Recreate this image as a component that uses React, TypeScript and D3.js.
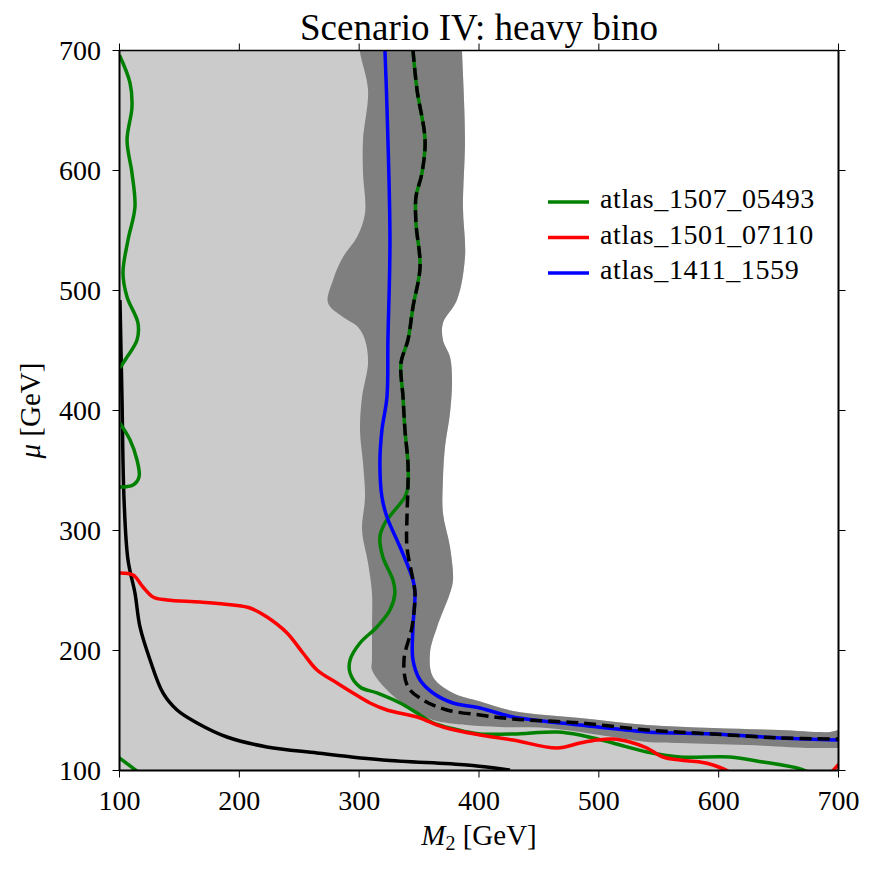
import React from "react";
import * as d3 from "d3";

type P = [number, number];

const TITLE = "Scenario IV: heavy bino";
const X_TICKS = [100, 200, 300, 400, 500, 600, 700];
const Y_TICKS = [100, 200, 300, 400, 500, 600, 700];

// dark band: outer (right/upper) edge, from top going down then right
const bandOuter: P[] = [
  [385.5, 715], [385.8, 700.4], [386.6, 681.25], [388.3, 625.4], [386.6, 569.6], [388.3, 527.9],
  [381.6, 492.1], [369.9, 472.9], [369.9, 458.75], [375.8, 444.6], [377.5, 425.4],
  [375.8, 397.9], [371.6, 369.6], [369.9, 342.1], [369.9, 314.6], [375.8, 286.25],
  [378.3, 258.75], [375.8, 247.9], [365, 219.6], [359.1, 197.9], [361.6, 177.9],
  [378.3, 164.6], [401, 157.5], [428.4, 149.6], [484.3, 143.75], [540.2, 137.9],
  [595.3, 135.4], [651.2, 133.75], [692.9, 132.1], [700, 133.75], [712, 134],
];
// dark band: inner (lower/left) edge, from right end going left then up
const bandInner: P[] = [
  [712, 118.75], [700, 118.75], [678.7, 118.75], [623.6, 121.25], [567.7, 122.9], [540.2, 123.75],
  [511.8, 127.9], [456.7, 135.4], [417.5, 136.25], [390, 137.9], [361.6, 142.1],
  [344.9, 150.4], [325.7, 164.6], [310.7, 183.75], [310.7, 192.1], [310.7, 219.6],
  [310.7, 247.9], [307.4, 272.9], [302.4, 300.4], [304.9, 327.9], [303.2, 356.25],
  [300.7, 383.75], [302.4, 411.25], [307.4, 439.6], [304.9, 458.75], [299, 469.6],
  [286.5, 477.9], [274, 489.6], [278.2, 508.75], [286.5, 527.9], [298.2, 544.6],
  [304.9, 564.6], [303.2, 597.9], [303.2, 625.4], [307.4, 667.1], [300.7, 698.75], [300, 715],
];

const expectedDashed: P[] = [
  [344.9, 700.4], [348.3, 667.1], [355, 625.4], [352.4, 597.9], [347.4, 577.9], [347.4, 556.25],
  [350.8, 519.6], [344.9, 486.25], [340.7, 458.75], [334.9, 439.6], [336.6, 411.25],
  [338.2, 383.75], [340.7, 356.25], [340.7, 336.25], [339.9, 311.25], [339.9, 286.25],
  [344.9, 258.75], [346.6, 247.9], [344.1, 219.6], [337.4, 192.1], [340.7, 169.6],
  [353.3, 158.75], [373.3, 150.4], [400.8, 146.25], [428.4, 142.9], [484.3, 139.6],
  [540.2, 133.75], [595.3, 130.4], [651.2, 127.1], [699.6, 126.25],
];

const blue1411: P[] = [
  [321.5, 700.4], [323.2, 652.9], [325.7, 542.1], [324, 458.75], [323.2, 411.25], [319, 383.75],
  [317.3, 356.25], [319, 327.9], [323.2, 311.25], [334.1, 286.25], [344.9, 258.75],
  [346.6, 247.9], [344.9, 219.6], [344.9, 192.1], [350.8, 175.4], [361.6, 164.6],
  [378.3, 156.25], [400.8, 152.1], [428.4, 144.6], [484.3, 137.9], [540.2, 132.1],
  [595.3, 130.4], [651.2, 127.1], [699.6, 125.4],
];

const green1507Main: P[] = [
  [344.9, 700.4], [348.3, 667.1], [355, 625.4], [352.4, 597.9], [347.4, 577.9], [347.4, 556.25],
  [350.8, 519.6], [344.9, 486.25], [340.7, 458.75], [334.9, 439.6], [336.6, 411.25],
  [338.2, 383.75], [340.7, 356.25], [340.7, 336.25], [338.2, 327.9], [329.8, 317.1],
  [321.5, 306.25], [317.3, 294.6], [319.8, 277.9], [328.2, 258.75], [329.8, 247.9],
  [325.7, 233.75], [314.8, 219.6], [300.7, 206.25], [292.4, 192.1], [292.4, 181.25],
  [300.7, 169.6], [314.8, 164.6], [334.1, 156.25], [348.3, 147.9], [361.6, 139.6],
  [390, 132.1], [400.8, 130.4], [428.4, 130.4], [465.1, 132.1], [484.3, 129.6],
  [511.8, 122.9], [540.2, 115.4], [567.7, 111.25], [609.5, 111.25], [637, 107.1],
  [665.4, 102.1], [674, 99],
];
const green1507Left1: P[] = [
  [100, 696], [108.8, 672.9], [110.4, 652.9], [106.3, 625.4], [110.4, 597.9], [112.9, 569.6],
  [107.1, 542.1], [102.9, 514.6], [106.3, 494.6], [115.4, 472.9], [114.6, 458.75],
  [106.3, 444.6], [100.2, 435.4],
];
const green1507Left2: P[] = [
  [100.2, 389.6], [108.8, 375.4], [114.6, 358.75], [116.3, 344.6], [111.3, 337.9],
  [102.9, 336.25], [100, 336.25],
];
const green1507Left3: P[] = [[99, 111.2], [114.6, 99.5]];

const red1501: P[] = [
  [99, 264.6], [111.3, 262.9], [119.6, 252.9], [128, 244.6], [139.6, 242.1], [167.2, 240.4],
  [194.7, 237.9], [208.9, 235.4], [223.1, 227.9], [239.8, 214.6], [253.1, 197.9],
  [264.8, 183.75], [281.5, 172.9], [294.8, 164.6], [309, 156.25], [323.2, 150.4],
  [348.3, 144.6], [370, 136.25], [400.8, 129.6], [428.4, 125.4], [465.1, 118.75],
  [484.3, 122.9], [498.5, 125.4], [511.8, 126.25], [526, 123.75], [540.2, 118.75],
  [553.6, 111.25], [567.7, 108.75], [584.4, 107.1], [595.3, 104.6], [608, 99.5],
];
const red1501Right: P[] = [[695, 99.5], [701, 106]];

const blackCurve: P[] = [
  [100.4, 492.1], [102.1, 408.75], [103.8, 325.4], [107.1, 275.4], [112.9, 247.9], [117.1, 219.6],
  [125.5, 192.1], [136.3, 164.6], [148, 150.4], [164.7, 139.6], [189.7, 127.9],
  [223.1, 119.6], [264.8, 114.6], [319.9, 108.75], [390, 104.6], [425.9, 100.4],
];

const LEGEND = [
  { label: "atlas_1507_05493", color: "#008000" },
  { label: "atlas_1501_07110", color: "#ff0000" },
  { label: "atlas_1411_1559", color: "#0000ff" },
];

const W = 877;
const H = 873;
const L = 119.5, R = 838.5, T = 50.5, B = 770.5;
const FONT = "Liberation Serif";
const tStyle = { fontFamily: FONT };

export default function App() {
  const x = d3.scaleLinear().domain([100, 700]).range([L, R]);
  const y = d3.scaleLinear().domain([100, 700]).range([B, T]);
  const line = d3
    .line<P>()
    .x((d) => x(d[0]))
    .y((d) => y(d[1]))
    .curve(d3.curveCatmullRom.alpha(0.5));

  const outerPath = line(bandOuter) as string;
  const lightPath =
    outerPath +
    `L${x(712)},${y(90)}L${x(90)},${y(90)}L${x(90)},${y(715)}Z`;
  const bandPath = (line([...bandOuter, ...bandInner]) as string) + "Z";

  const lw = 3.5;
  return (
    <svg
      width={W}
      height={H}
      style={{ position: "absolute", left: 0, top: 0, background: "#fff" }}
    >
      <defs>
        <clipPath id="plotclip">
          <rect x={L} y={T} width={R - L} height={B - T} />
        </clipPath>
      </defs>
      <rect x={0} y={0} width={W} height={H} fill="#fff" />
      <g clipPath="url(#plotclip)">
        <path d={lightPath} fill="#cbcbcb" stroke="none" />
        <path d={bandPath} fill="#7f7f7f" stroke="none" />
        <path d={line(blackCurve) as string} fill="none" stroke="#000" strokeWidth={lw} />
        {[green1507Main, green1507Left1, green1507Left2, green1507Left3].map((s, i) => (
          <path key={"g" + i} d={line(s) as string} fill="none" stroke="#008000" strokeWidth={lw} />
        ))}
        {[red1501, red1501Right].map((s, i) => (
          <path key={"r" + i} d={line(s) as string} fill="none" stroke="#ff0000" strokeWidth={lw} />
        ))}
        <path d={line(blue1411) as string} fill="none" stroke="#0000ff" strokeWidth={lw} />
        <path
          d={line(expectedDashed) as string}
          fill="none"
          stroke="#000"
          strokeWidth={lw}
          strokeDasharray="12,6"
        />
      </g>

      {/* frame */}
      <line x1={L} x2={R} y1={T} y2={T} stroke="#000" strokeWidth={1.5} />
      <line x1={L} x2={R} y1={B} y2={B} stroke="#000" strokeWidth={2} />
      <line x1={L} x2={L} y1={T} y2={B} stroke="#000" strokeWidth={2} />
      <line x1={R} x2={R} y1={T} y2={B} stroke="#000" strokeWidth={2} />

      {/* ticks */}
      {X_TICKS.map((t) => (
        <g key={"xt" + t}>
          <line x1={x(t)} x2={x(t)} y1={B} y2={B + 7} stroke="#000" strokeWidth={1} />
          <line x1={x(t)} x2={x(t)} y1={T} y2={T - 7} stroke="#000" strokeWidth={1} />
          <text x={x(t)} y={810} fontSize={28} textAnchor="middle" fill="#000" style={tStyle}>
            {t}
          </text>
        </g>
      ))}
      {Y_TICKS.map((t) => (
        <g key={"yt" + t}>
          <line x1={L} x2={L - 7} y1={y(t)} y2={y(t)} stroke="#000" strokeWidth={1} />
          <line x1={R} x2={R + 7} y1={y(t)} y2={y(t)} stroke="#000" strokeWidth={1} />
          <text x={101} y={y(t) + 9.5} fontSize={28} textAnchor="end" fill="#000" style={tStyle}>
            {t}
          </text>
        </g>
      ))}

      {/* title */}
      <text x={(L + R) / 2} y={40} fontSize={37} textAnchor="middle" fill="#000" style={tStyle}>
        {TITLE}
      </text>

      {/* axis labels */}
      <text x={(L + R) / 2} y={845} fontSize={29} textAnchor="middle" fill="#000" style={tStyle}>
        <tspan fontStyle="italic">M</tspan>
        <tspan fontSize={20} dy={5}>2</tspan>
        <tspan dy={-5}> [GeV]</tspan>
      </text>
      <text
        transform={`translate(40,${(T + B) / 2}) rotate(-90)`}
        fontSize={29}
        textAnchor="middle"
        fill="#000"
        style={tStyle}
      >
        <tspan fontStyle="italic">μ</tspan>
        <tspan> [GeV]</tspan>
      </text>

      {/* legend */}
      {LEGEND.map((l, i) => {
        const ly = 202 + i * 35.5;
        return (
          <g key={"lg" + i}>
            <line x1={548} x2={589} y1={ly} y2={ly} stroke={l.color} strokeWidth={lw} />
            <text
              x={600}
              y={ly + 6}
              fontSize={28}
              fill="#000"
              style={{ fontFamily: FONT, letterSpacing: "0.6px" }}
            >
              {l.label}
            </text>
          </g>
        );
      })}
    </svg>
  );
}
